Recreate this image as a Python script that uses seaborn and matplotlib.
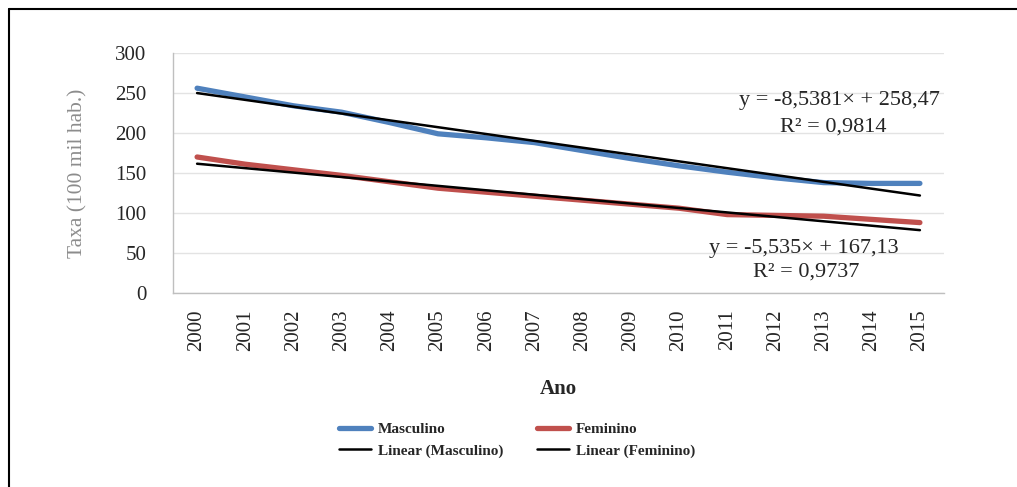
import matplotlib
matplotlib.use("Agg")
import matplotlib.pyplot as plt
import seaborn as sns
import numpy as np
import pandas as pd
from matplotlib.lines import Line2D

years = [str(y) for y in range(2000, 2016)]
masculino = [256, 245, 234, 226, 213, 199, 194, 188, 178, 168, 159, 151, 144, 138, 137, 137]
feminino = [170, 161, 154, 147, 139, 131, 126, 121, 116, 111, 106, 98, 97, 96, 92, 88]
trend_masc = (-8.5381, 258.47)
trend_fem = (-5.535, 167.13)
eq_masc = ["y = -8,5381× + 258,47", "R² = 0,9814"]
eq_fem = ["y = -5,535× + 167,13", "R² = 0,9737"]

sns.set_theme(style="white")
plt.rcParams['font.family'] = ['Liberation Serif', 'DejaVu Serif']

idx = np.arange(len(years))
df = pd.DataFrame({"idx": np.concatenate([idx, idx]),
                   "Taxa": masculino + feminino,
                   "Sexo": ["Masculino"] * len(years) + ["Feminino"] * len(years)})
tm = trend_masc[0] * (idx + 1) + trend_masc[1]
tf = trend_fem[0] * (idx + 1) + trend_fem[1]

fig = plt.figure(figsize=(10.17, 4.87), dpi=100)
ax = fig.add_axes([173 / 1017, 1 - 293 / 487, (944 - 173) / 1017, (293 - 53) / 487])

blue = "#4F81BD"
red = "#C0504D"
sns.lineplot(data=df, x="idx", y="Taxa", hue="Sexo", palette={"Masculino": blue, "Feminino": red},
             linewidth=3.8, ax=ax, legend=False, solid_capstyle="round", zorder=3)
sns.lineplot(x=idx, y=tm, color="black", linewidth=1.8, ax=ax, zorder=4)
sns.lineplot(x=idx, y=tf, color="black", linewidth=1.8, ax=ax, zorder=4)

ax.set_xlim(-0.5, len(years) - 0.5)
ax.set_ylim(0, 300)
ax.set_yticks(range(0, 301, 50))
ax.set_yticklabels([str(v) for v in range(0, 301, 50)], fontsize=15)
ax.set_xticks(idx)
ax.set_xticklabels(years, rotation=90, fontsize=15)
ax.set_xticks(np.arange(-0.5, len(years), 1), minor=True)
ax.tick_params(axis='x', which='major', length=0, pad=12)
ax.tick_params(axis='x', which='minor', length=6, color="#BFBFBF", direction='out', width=1)
ax.tick_params(axis='y', length=7, color="#BFBFBF", direction='out', width=1, pad=12)
ax.grid(axis='y', color="#E3E3E3", linewidth=1)
ax.grid(axis='x', visible=False)
for s in ['top', 'right']:
    ax.spines[s].set_visible(False)
for s in ['left', 'bottom']:
    ax.spines[s].set_color("#BFBFBF")
    ax.spines[s].set_linewidth(1)
ax.set_xlabel("Ano", fontsize=15, fontweight='bold', labelpad=20)
ax.set_ylabel("Taxa (100 mil hab.)", fontsize=15.5, color="#8C8C8C", labelpad=20)

ax.text(13.34, 240, eq_masc[0], fontsize=16, ha='center', va='center')
ax.text(13.2, 207.5, eq_masc[1], fontsize=16, ha='center', va='center')
ax.text(12.59, 56, eq_fem[0], fontsize=16, ha='center', va='center')
ax.text(12.64, 26, eq_fem[1], fontsize=16, ha='center', va='center')

handles = [Line2D([], [], color=blue, lw=3.8, solid_capstyle='round'),
           Line2D([], [], color='black', lw=1.8),
           Line2D([], [], color=red, lw=3.8, solid_capstyle='round'),
           Line2D([], [], color='black', lw=1.8)]
labels = ["Masculino", "Linear (Masculino)", "Feminino", "Linear (Feminino)"]
fig.legend(handles, labels, ncol=2, loc='center', bbox_to_anchor=(517 / 1017, 1 - 440 / 487),
           frameon=False, prop={'family': ['Liberation Serif'], 'weight': 'bold', 'size': 11},
           handlelength=2.1, columnspacing=2.2, labelspacing=0.5, handletextpad=0.45)

fig.add_artist(Line2D([9 / 1017, 1], [1 - 9 / 487, 1 - 9 / 487], color='black', lw=1.5, transform=fig.transFigure))
fig.add_artist(Line2D([9 / 1017, 9 / 1017], [0, 1 - 9 / 487], color='black', lw=1.5, transform=fig.transFigure))

fig.savefig("out.png", dpi=100)
